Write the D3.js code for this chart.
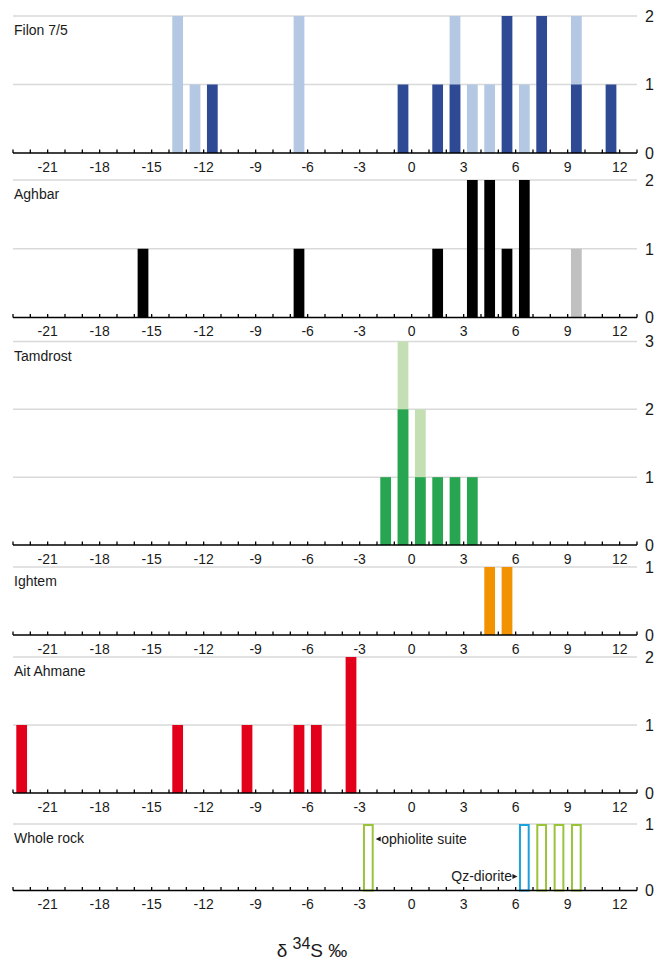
<!DOCTYPE html>
<html>
<head>
<meta charset="utf-8">
<script src="https://cdn.jsdelivr.net/npm/d3@7"></script>
<style>
  body { margin: 0; background: #fff; }
  svg text { font-family: "Liberation Sans", Arial, sans-serif; }
</style>
</head>
<body>
<svg id="chart" width="666" height="966"></svg>
<script>
// delta 34S histograms, one bin per permil, value = bin centre
var xTicks = [-21, -18, -15, -12, -9, -6, -3, 0, 3, 6, 9, 12];

var filonDark  = [[-11.5, 1], [-0.5, 1], [1.5, 1], [2.5, 1], [5.5, 2], [7.5, 2], [9.5, 1], [11.5, 1]];
var filonLight = [[-13.5, 2], [-12.5, 1], [-6.5, 2], [2.5, 2], [3.5, 1], [4.5, 1], [6.5, 1], [9.5, 2]];

var aghbarBlack = [[-15.5, 1], [-6.5, 1], [1.5, 1], [3.5, 2], [4.5, 2], [5.5, 1], [6.5, 2]];
var aghbarGrey  = [[9.5, 1]];

var tamdrostDark  = [[-1.5, 1], [-0.5, 2], [0.5, 1], [1.5, 1], [2.5, 1], [3.5, 1]];
var tamdrostLight = [[-0.5, 3], [0.5, 2]];

var ightem = [[4.5, 1], [5.5, 1]];

var aitAhmane = [[-22.5, 1], [-13.5, 1], [-9.5, 1], [-6.5, 1], [-5.5, 1], [-3.5, 2]];

var wholeOphiolite = [[-2.5, 1], [7.5, 1], [8.5, 1], [9.5, 1]];
var wholeDiorite   = [[6.5, 1]];

var panels = [
    { name: "Filon 7/5",  base: 153,   top: 16,    max: 2, series: [
        { data: filonLight, fill: "#b4c7e3" }, { data: filonDark, fill: "#2e4a95" }] },
    { name: "Aghbar",     base: 317.5, top: 180,   max: 2, series: [
        { data: aghbarGrey, fill: "#c0c0c0" }, { data: aghbarBlack, fill: "#000000" }] },
    { name: "Tamdrost",   base: 545,   top: 341.5, max: 3, series: [
        { data: tamdrostLight, fill: "#c3dfb3" }, { data: tamdrostDark, fill: "#28a550" }] },
    { name: "Ightem",     base: 635,   top: 567,   max: 1, series: [
        { data: ightem, fill: "#f39200" }] },
    { name: "Ait Ahmane", base: 793,   top: 657,   max: 2, series: [
        { data: aitAhmane, fill: "#e2001a" }] },
    { name: "Whole rock", base: 890.5, top: 824,   max: 1, series: [
        { data: wholeOphiolite, stroke: "#9bc33a" }, { data: wholeDiorite, stroke: "#1ba1dc" }] }
];

var svg = d3.select("#chart");
var x = d3.scaleLinear().domain([-23, 13]).range([13, 637]);
var barW = 0.62 * (x(1) - x(0));

panels.forEach(function(p) {
    var y = d3.scaleLinear().domain([0, p.max]).range([p.base, p.top]);
    var g = svg.append("g");

    // gridlines
    g.selectAll("line.grid").data(d3.range(1, p.max + 1)).enter().append("line")
        .attr("class", "grid")
        .attr("x1", x(-23)).attr("x2", x(13))
        .attr("y1", function(d) { return y(d); }).attr("y2", function(d) { return y(d); })
        .attr("stroke", "#d9d9d9").attr("stroke-width", 1.5);

    // bars
    p.series.forEach(function(s) {
        var outline = !!s.stroke;
        g.selectAll(null).data(s.data).enter().append("rect")
            .attr("x", function(d) { return x(d[0]) - barW / 2 + (outline ? 1 : 0); })
            .attr("width", barW - (outline ? 2 : 0))
            .attr("y", function(d) { return y(d[1]) + (outline ? 1 : 0); })
            .attr("height", function(d) { return y(0) - y(d[1]) - (outline ? 1 : 0); })
            .attr("fill", outline ? "none" : s.fill)
            .attr("stroke", outline ? s.stroke : "none")
            .attr("stroke-width", outline ? 2 : 0);
    });

    // x axis: line, small ticks upward, labels every 3
    g.append("line")
        .attr("x1", x(-23)).attr("x2", x(13))
        .attr("y1", p.base).attr("y2", p.base)
        .attr("stroke", "#000").attr("stroke-width", 1.5);
    g.selectAll("line.tick").data(d3.range(-23, 14)).enter().append("line")
        .attr("class", "tick")
        .attr("x1", function(d) { return x(d); }).attr("x2", function(d) { return x(d); })
        .attr("y1", p.base).attr("y2", p.base - 3.5)
        .attr("stroke", "#000").attr("stroke-width", 1.3);
    g.selectAll("text.xl").data(xTicks).enter().append("text")
        .attr("class", "xl")
        .attr("x", function(d) { return x(d); })
        .attr("y", p.base + 18.5)
        .attr("text-anchor", "middle")
        .attr("font-size", 14)
        .attr("fill", "#1a1a1a")
        .text(function(d) { return d; });

    // y labels on right
    g.selectAll("text.yl").data(d3.range(0, p.max + 1)).enter().append("text")
        .attr("class", "yl")
        .attr("x", 645)
        .attr("y", function(d) { return y(d); })
        .attr("dy", "0.36em")
        .attr("font-size", 16)
        .attr("fill", "#1a1a1a")
        .text(function(d) { return d; });

    // panel name
    g.append("text")
        .attr("x", 14).attr("y", p.top + 19)
        .attr("font-size", 14)
        .attr("fill", "#1a1a1a")
        .text(p.name);
});

// annotations in whole rock panel
var ann = svg.append("g").attr("fill", "#1a1a1a");
var ax1 = x(-2.5) + barW / 2 + 2;
ann.append("path")
    .attr("d", "M" + ax1 + "," + 839 + "l5,-2.5v5z");
ann.append("text")
    .attr("x", ax1 + 5.5).attr("y", 844)
    .attr("font-size", 14)
    .text("ophiolite suite");
var ax2 = x(6.5) - barW / 2 - 1.5;
ann.append("path")
    .attr("d", "M" + ax2 + "," + 876.5 + "l-5,-2.5v5z");
ann.append("text")
    .attr("x", ax2 - 5.5).attr("y", 881)
    .attr("text-anchor", "end")
    .attr("font-size", 14)
    .text("Qz-diorite");

// x title
var title = svg.append("text")
    .attr("x", 312).attr("y", 957)
    .attr("text-anchor", "middle")
    .attr("font-family", "'Open Sans', sans-serif")
    .attr("font-size", 19)
    .attr("fill", "#1a1a1a");
title.append("tspan").text("δ ");
title.append("tspan").attr("dy", -8).attr("font-size", 16).text("34");
title.append("tspan").attr("dy", 8).text("S ‰");
</script>
</body>
</html>
